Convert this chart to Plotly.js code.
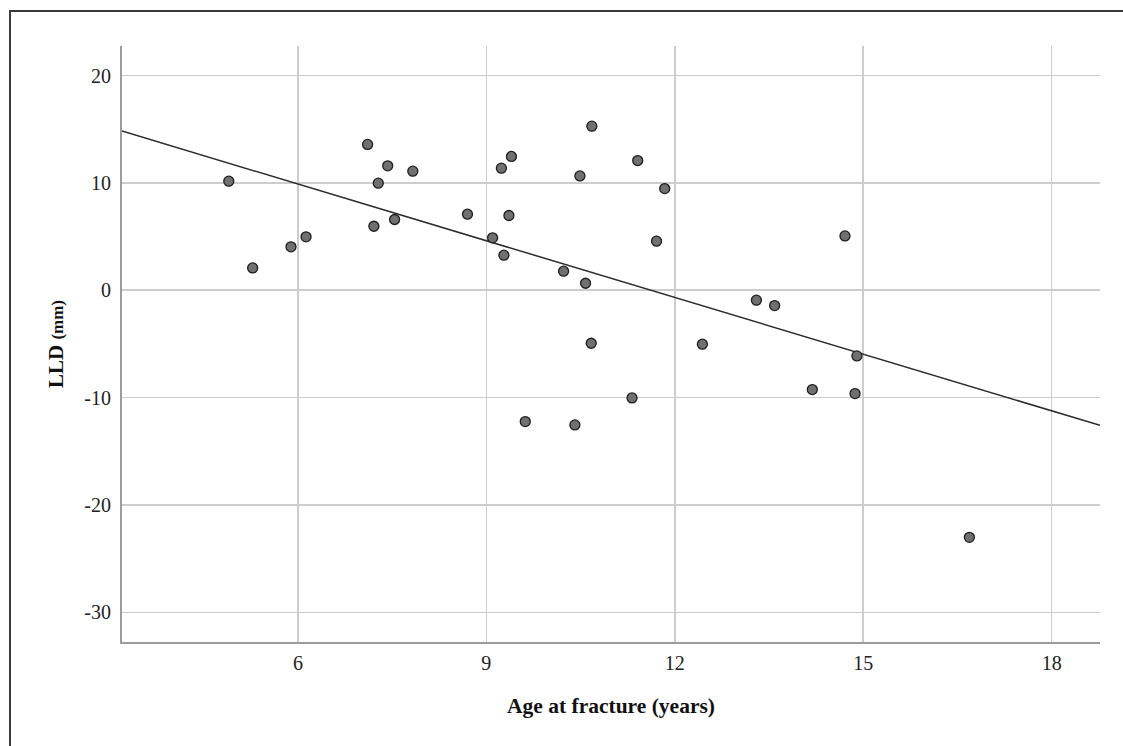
<!DOCTYPE html>
<html>
<head>
<meta charset="utf-8">
<script src="https://cdn.plot.ly/plotly-3.0.1.min.js"></script>
<style>
  html, body { margin:0; padding:0; background:#fff; overflow:hidden; }
  #wrap { position:relative; width:1123px; height:746px; }
  #frame { position:absolute; left:9px; top:10px; width:1200px; height:800px;
           border-left:2px solid #3a3a3a; border-top:2px solid #3a3a3a; pointer-events:none; z-index:5; }
  #chart { position:absolute; left:0; top:0; width:1123px; height:746px; }
</style>
</head>
<body>
<div id="wrap">
  <div id="chart"></div>
  <div id="frame"></div>
</div>
<script>
// Age at fracture (years)
const ageYears = [4.90, 5.28, 5.89, 6.13, 7.11, 7.43, 7.28, 7.21, 7.54, 7.83, 8.70,
                  9.40, 9.24, 9.36, 9.10, 9.28, 10.68, 10.49, 11.41, 11.84, 11.71,
                  10.23, 10.58, 10.67, 12.44, 11.32, 9.62, 10.41, 13.30, 13.59,
                  14.71, 14.90, 14.19, 14.87, 16.69];
// Leg length discrepancy (mm)
const lldMm = [10.16, 2.08, 4.04, 4.97, 13.58, 11.59, 9.97, 5.96, 6.59, 11.09, 7.08,
               12.46, 11.37, 6.96, 4.88, 3.26, 15.28, 10.65, 12.08, 9.47, 4.57,
               1.77, 0.65, -4.94, -5.03, -10.03, -12.24, -12.55, -0.93, -1.43,
               5.06, -6.12, -9.26, -9.63, -23.02];
const xTicks = [6, 9, 12, 15, 18];
const yTicks = [-30, -20, -10, 0, 10, 20];
const xRange = [3.20, 18.77];
const yRange = [-32.77, 22.75];

// Ordinary least-squares fit line (as drawn by the original software)
const n = ageYears.length;
const mx = ageYears.reduce((a,b)=>a+b,0)/n;
const my = lldMm.reduce((a,b)=>a+b,0)/n;
let sxy = 0, sxx = 0;
for (let i = 0; i < n; i++) { sxy += (ageYears[i]-mx)*(lldMm[i]-my); sxx += (ageYears[i]-mx)**2; }
const slope = sxy/sxx, intercept = my - slope*mx;
const fitX = xRange.slice();
const fitY = fitX.map(x => intercept + slope*x);

const serif = "'Liberation Serif', 'Times New Roman', serif";

const traces = [
  { x: fitX, y: fitY, type:'scatter', mode:'lines',
    line:{color:'#2b2b2b', width:1.5}, hoverinfo:'skip', showlegend:false },
  { x: ageYears, y: lldMm, type:'scatter', mode:'markers',
    marker:{size:10, color:'#707070', line:{color:'#1e1e1e', width:1.3}},
    showlegend:false }
];

const layout = {
  width:1123, height:746,
  margin:{l:122, r:23, t:46, b:104},
  paper_bgcolor:'#ffffff', plot_bgcolor:'#ffffff',
  font:{family:serif, color:'#222'},
  xaxis:{
    range:xRange, tickvals:xTicks, ticktext:xTicks.map(String),
    showgrid:true, gridcolor:'#cdcdcd', gridwidth:1.5,
    zeroline:false, showline:true, linecolor:'#9c9c9c', linewidth:2,
    ticks:'', ticklabelstandoff:2,
    tickfont:{family:serif, size:20, color:'#222'},
    title:{text:'<b>Age at fracture (years)</b>', font:{family:serif, size:21.5, color:'#111'}, standoff:25}
  },
  yaxis:{
    range:yRange, tickvals:yTicks, ticktext:yTicks.map(String),
    showgrid:true, gridcolor:'#cdcdcd', gridwidth:1.5,
    zeroline:false, showline:true, linecolor:'#9c9c9c', linewidth:2,
    ticks:'', ticklabelstandoff:5,
    tickfont:{family:serif, size:20, color:'#222'},
    title:{text:'<b>LLD <span style="font-size:17px">(mm)</span></b>', font:{family:serif, size:21, color:'#111'}, standoff:15}
  }
};

Plotly.newPlot('chart', traces, layout, {displayModeBar:false, staticPlot:true});
</script>
</body>
</html>
